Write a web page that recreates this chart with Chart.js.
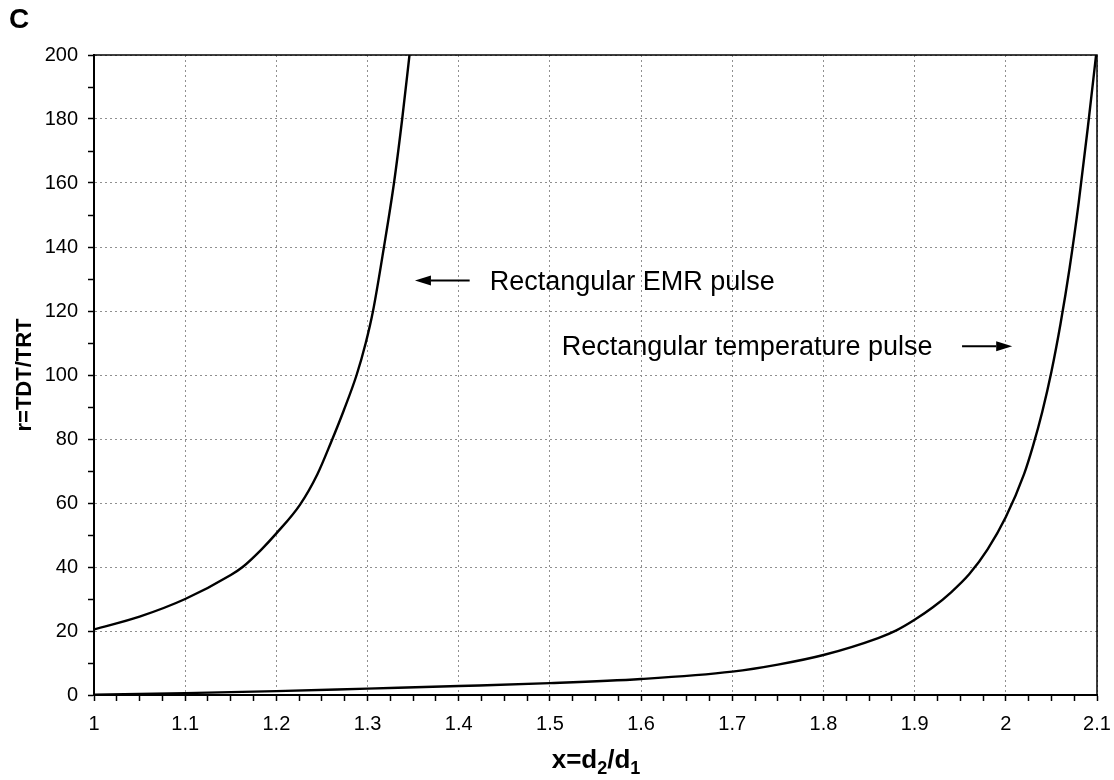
<!DOCTYPE html>
<html>
<head>
<meta charset="utf-8">
<script src="https://cdn.jsdelivr.net/npm/chart.js@4.4.1/dist/chart.umd.min.js"></script>
<style>
  html, body { margin: 0; padding: 0; background: #fff; }
</style>
</head>
<body>
<canvas id="chart" width="1114" height="780"></canvas>
<script>
// values
const emrX = [1.00, 1.05, 1.10, 1.15, 1.163, 1.183, 1.20, 1.226, 1.245, 1.26, 1.274, 1.288, 1.298, 1.306, 1.318, 1.329, 1.338, 1.346];
const emrY = [20.5, 24.5, 30, 37.5, 40, 45.3, 50.5, 59.5, 69, 79, 89, 100, 110, 120, 140, 160, 180, 200];

const tempX = [1.00, 1.10, 1.20, 1.30, 1.40, 1.50, 1.60, 1.70, 1.75, 1.80, 1.86, 1.88, 1.90, 1.92, 1.94, 1.96, 1.98, 2.00, 2.02, 2.03, 2.04, 2.05, 2.06, 2.07, 2.08, 2.09, 2.099];
const tempY = [0.1, 0.6, 1.2, 2.0, 2.8, 3.7, 5.0, 7.3, 9.5, 12.5, 17.8, 20.2, 23.5, 27.4, 32.1, 37.8, 45.5, 55.6, 69, 78, 88.5, 101, 116, 133.5, 154, 177.5, 200];

const xTickLabels = ['1', '1.1', '1.2', '1.3', '1.4', '1.5', '1.6', '1.7', '1.8', '1.9', '2', '2.1'];
const yTickLabels = ['0', '20', '40', '60', '80', '100', '120', '140', '160', '180', '200'];

const FONT = "'Liberation Sans', Arial, sans-serif";

function isMajor(v, step) {
    const k = v / step;
    return Math.abs(k - Math.round(k)) < 1e-6;
}

function arrow(ctx, x0, x1, yy) {
    const dir = Math.sign(x1 - x0);
    const head = 16, half = 5;
    ctx.beginPath();
    ctx.moveTo(x0, yy);
    ctx.lineTo(x1 - dir * head, yy);
    ctx.stroke();
    ctx.beginPath();
    ctx.moveTo(x1, yy);
    ctx.lineTo(x1 - dir * head, yy - half);
    ctx.lineTo(x1 - dir * head, yy + half);
    ctx.closePath();
    ctx.fill();
}

// frame, panel letter, annotations and the x title with subscripts
const extras = {
    id: 'extras',
    afterDraw(chart) {
        const {ctx, chartArea: a, scales: {x, y}} = chart;
        ctx.save();
        ctx.strokeStyle = '#000';
        ctx.fillStyle = '#000';
        ctx.lineWidth = 1.5;
        ctx.beginPath();
        ctx.moveTo(a.left, a.top);
        ctx.lineTo(a.right, a.top);
        ctx.lineTo(a.right, a.bottom);
        ctx.stroke();

        ctx.font = 'bold 28px ' + FONT;
        ctx.textBaseline = 'alphabetic';
        ctx.fillText('C', 9, 28);

        ctx.font = '27px ' + FONT;
        ctx.textBaseline = 'middle';
        ctx.lineWidth = 2;
        ctx.fillText('Rectangular EMR pulse', x.getPixelForValue(1.434), y.getPixelForValue(129));
        arrow(ctx, x.getPixelForValue(1.412), x.getPixelForValue(1.352), y.getPixelForValue(129.5));
        ctx.fillText('Rectangular temperature pulse', x.getPixelForValue(1.513), y.getPixelForValue(108.5));
        arrow(ctx, x.getPixelForValue(1.952), x.getPixelForValue(2.007), y.getPixelForValue(109));

        // x title: x=d2/d1
        ctx.textBaseline = 'alphabetic';
        const big = 'bold 26px ' + FONT, small = 'bold 18px ' + FONT;
        const parts = [['x=d', big, 0], ['2', small, 6], ['/d', big, 0], ['1', small, 6]];
        let w = 0;
        parts.forEach(p => { ctx.font = p[1]; w += ctx.measureText(p[0]).width; });
        let cx = 596 - w / 2;
        const base = 768;
        parts.forEach(p => {
            ctx.font = p[1];
            ctx.fillText(p[0], cx, base + p[2]);
            cx += ctx.measureText(p[0]).width;
        });
        ctx.restore();
    }
};

const gridColor = (step) => (c) => (c.tick && isMajor(c.tick.value, step) ? '#909090' : 'rgba(0,0,0,0)');

new Chart(document.getElementById('chart').getContext('2d'), {
    type: 'line',
    data: {
        datasets: [{
            label: 'Rectangular EMR pulse',
            data: emrX.map((v, i) => ({x: v, y: emrY[i]})),
            borderColor: '#000',
            borderWidth: 2.4,
            pointRadius: 0,
            cubicInterpolationMode: 'monotone',
            fill: false
        }, {
            label: 'Rectangular temperature pulse',
            data: tempX.map((v, i) => ({x: v, y: tempY[i]})),
            borderColor: '#000',
            borderWidth: 2.4,
            pointRadius: 0,
            cubicInterpolationMode: 'monotone',
            fill: false
        }]
    },
    options: {
        responsive: false,
        animation: false,
        layout: {padding: {top: 55, right: 17, left: 0, bottom: 0}},
        plugins: {legend: {display: false}, tooltip: {enabled: false}},
        scales: {
            x: {
                type: 'linear',
                min: 1,
                max: 2.1,
                afterFit: (s) => { s.height = 85; s.paddingLeft = 0; s.paddingRight = 0; },
                ticks: {
                    stepSize: 0.025,
                    autoSkip: false,
                    maxRotation: 0,
                    padding: 11,
                    color: '#000',
                    font: {family: FONT, size: 20},
                    callback: (v) => isMajor(v, 0.1) ? xTickLabels[Math.round((v - 1) * 10)] : ''
                },
                grid: {
                    color: gridColor(0.1),
                    lineWidth: 1,
                    tickColor: '#000',
                    tickLength: 6,
                    tickWidth: 1.5
                },
                border: {color: '#000', width: 2, dash: [2, 3]}
            },
            y: {
                min: 0,
                max: 200,
                afterFit: (s) => { s.width = 94; s.paddingTop = 0; s.paddingBottom = 0; },
                ticks: {
                    stepSize: 10,
                    autoSkip: false,
                    padding: 10,
                    color: '#000',
                    font: {family: FONT, size: 20},
                    callback: (v) => isMajor(v, 20) ? yTickLabels[Math.round(v / 20)] : ''
                },
                grid: {
                    color: gridColor(20),
                    lineWidth: 1,
                    tickColor: '#000',
                    tickLength: 6,
                    tickWidth: 1.5
                },
                border: {color: '#000', width: 2, dash: [2, 3]},
                title: {
                    display: true,
                    text: 'r=TDT/TRT',
                    color: '#000',
                    font: {family: FONT, size: 22, weight: 'bold'},
                    padding: {top: 12, bottom: 0}
                }
            }
        }
    },
    plugins: [extras]
});
</script>
</body>
</html>
